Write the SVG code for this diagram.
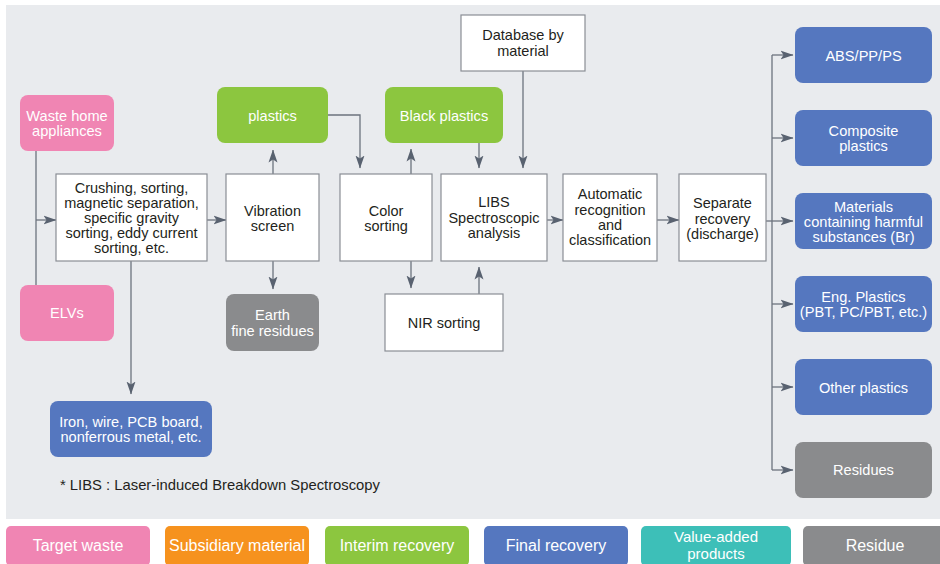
<svg xmlns="http://www.w3.org/2000/svg" width="940" height="564" viewBox="0 0 940 564">
<style>
.wb{fill:#ffffff;stroke:#8a8e95;stroke-width:1.2}
.pk{fill:#f085b3}
.gr{fill:#8cc63f}
.bl{fill:#5577bf}
.gy{fill:#8a8b8d}
.or{fill:#f6921e}
.tl{fill:#3dbfb8}
text{font-family:"Liberation Sans",Arial,Helvetica,sans-serif;text-anchor:middle}
.dt{fill:#231f20;font-size:14.5px}
.wt{fill:#ffffff;font-size:14.6px}
.lg{fill:#ffffff;font-size:16px}
.cn{fill:none;stroke:#6c737e;stroke-width:1.3}
</style>
<defs>
<marker id="ah" markerWidth="13" markerHeight="10" refX="12.5" refY="5" orient="auto" markerUnits="userSpaceOnUse">
<path d="M0,0.5 L13,5 L0,9.5 L3,5 z" fill="#596270"/>
</marker>
</defs>
<rect x="0" y="0" width="940" height="564" fill="#ffffff"/>
<rect x="6" y="5" width="934" height="514" fill="#e9ebee"/>

<g id="connectors">
<path class="cn" d="M36,151 V285"/>
<path class="cn" d="M36,220 H56" marker-end="url(#ah)"/>
<path class="cn" d="M207,220 H226" marker-end="url(#ah)"/>
<path class="cn" d="M273,174 V150" marker-end="url(#ah)"/>
<path class="cn" d="M273,261 V289" marker-end="url(#ah)"/>
<path class="cn" d="M328,115 H360 V168" marker-end="url(#ah)"/>
<path class="cn" d="M411,174 V149" marker-end="url(#ah)"/>
<path class="cn" d="M479,143 V168" marker-end="url(#ah)"/>
<path class="cn" d="M523,71 V168" marker-end="url(#ah)"/>
<path class="cn" d="M411,261 V288" marker-end="url(#ah)"/>
<path class="cn" d="M479,294 V267" marker-end="url(#ah)"/>
<path class="cn" d="M547,220 H563" marker-end="url(#ah)"/>
<path class="cn" d="M657,220 H679" marker-end="url(#ah)"/>
<path class="cn" d="M131,261 V394" marker-end="url(#ah)"/>
<path class="cn" d="M772,55 V470"/>
<path class="cn" d="M766,221 H793" marker-end="url(#ah)"/>
<path class="cn" d="M772,55 H793" marker-end="url(#ah)"/>
<path class="cn" d="M772,138 H793" marker-end="url(#ah)"/>
<path class="cn" d="M772,304 H793" marker-end="url(#ah)"/>
<path class="cn" d="M772,387 H793" marker-end="url(#ah)"/>
<path class="cn" d="M772,470 H793" marker-end="url(#ah)"/>
</g>

<g id="waste-home">
<rect class="pk" x="20" y="95" width="94" height="56" rx="8"/>
<text class="wt" x="67" y="121">Waste home</text>
<text class="wt" x="67" y="136">appliances</text>
</g>
<g id="elvs">
<rect class="pk" x="20" y="285" width="94" height="56" rx="8"/>
<text class="wt" x="67" y="318">ELVs</text>
</g>
<g id="crushing">
<rect class="wb" x="56" y="174" width="151" height="87"/>
<text class="dt" x="131.5" y="193">Crushing, sorting,</text>
<text class="dt" x="131.5" y="208">magnetic separation,</text>
<text class="dt" x="131.5" y="223">specific gravity</text>
<text class="dt" x="131.5" y="238">sorting, eddy current</text>
<text class="dt" x="131.5" y="253">sorting, etc.</text>
</g>
<g id="vibration">
<rect class="wb" x="226" y="174" width="93" height="87"/>
<text class="dt" x="272.5" y="216">Vibration</text>
<text class="dt" x="272.5" y="231">screen</text>
</g>
<g id="plastics">
<rect class="gr" x="217" y="87" width="111" height="56" rx="8"/>
<text class="wt" x="272.5" y="121">plastics</text>
</g>
<g id="earth">
<rect class="gy" x="226" y="294" width="93" height="57" rx="8"/>
<text class="wt" x="272.5" y="320">Earth</text>
<text class="wt" x="272.5" y="336">fine residues</text>
</g>
<g id="color-sorting">
<rect class="wb" x="340" y="174" width="92" height="87"/>
<text class="dt" x="386" y="216">Color</text>
<text class="dt" x="386" y="231">sorting</text>
</g>
<g id="black-plastics">
<rect class="gr" x="385" y="87" width="118" height="56" rx="8"/>
<text class="wt" x="444" y="121">Black plastics</text>
</g>
<g id="database">
<rect class="wb" x="461" y="15" width="124" height="56"/>
<text class="dt" x="523" y="40">Database by</text>
<text class="dt" x="523" y="56">material</text>
</g>
<g id="libs">
<rect class="wb" x="441" y="174" width="106" height="87"/>
<text class="dt" x="494" y="207">LIBS</text>
<text class="dt" x="494" y="223">Spectroscopic</text>
<text class="dt" x="494" y="238">analysis</text>
</g>
<g id="nir">
<rect class="wb" x="385" y="294" width="118" height="57"/>
<text class="dt" x="444" y="328">NIR sorting</text>
</g>
<g id="automatic">
<rect class="wb" x="563" y="174" width="94" height="87"/>
<text class="dt" x="610" y="199">Automatic</text>
<text class="dt" x="610" y="215">recognition</text>
<text class="dt" x="610" y="230">and</text>
<text class="dt" x="610" y="245">classification</text>
</g>
<g id="separate">
<rect class="wb" x="679" y="174" width="87" height="87"/>
<text class="dt" x="722.5" y="208">Separate</text>
<text class="dt" x="722.5" y="224">recovery</text>
<text class="dt" x="722.5" y="239">(discharge)</text>
</g>
<g id="iron">
<rect class="bl" x="50" y="401" width="162" height="56" rx="8"/>
<text class="wt" x="131" y="427">Iron, wire, PCB board,</text>
<text class="wt" x="131" y="442">nonferrous metal, etc.</text>
</g>
<g id="abs">
<rect class="bl" x="795" y="27" width="137" height="56" rx="8"/>
<text class="wt" x="863.5" y="61">ABS/PP/PS</text>
</g>
<g id="composite">
<rect class="bl" x="795" y="110" width="137" height="56" rx="8"/>
<text class="wt" x="863.5" y="136">Composite</text>
<text class="wt" x="863.5" y="151">plastics</text>
</g>
<g id="harmful">
<rect class="bl" x="795" y="193" width="137" height="56" rx="8"/>
<text class="wt" x="863.5" y="212">Materials</text>
<text class="wt" x="863.5" y="227">containing harmful</text>
<text class="wt" x="863.5" y="242">substances (Br)</text>
</g>
<g id="eng">
<rect class="bl" x="795" y="276" width="137" height="56" rx="8"/>
<text class="wt" x="863.5" y="302">Eng. Plastics</text>
<text class="wt" x="863.5" y="317">(PBT, PC/PBT, etc.)</text>
</g>
<g id="other">
<rect class="bl" x="795" y="359" width="137" height="56" rx="8"/>
<text class="wt" x="863.5" y="393">Other plastics</text>
</g>
<g id="residues">
<rect class="gy" x="795" y="442" width="137" height="56" rx="8"/>
<text class="wt" x="863.5" y="475">Residues</text>
</g>

<text x="60" y="490" style="text-anchor:start;font-size:14.8px;fill:#231f20">* LIBS : Laser-induced Breakdown Spectroscopy</text>

<g id="legend">
<rect class="pk" x="6" y="526" width="144" height="40" rx="5"/>
<text class="lg" x="78" y="551">Target waste</text>
<rect class="or" x="165" y="526" width="144" height="40" rx="5"/>
<text class="lg" x="237" y="551">Subsidiary material</text>
<rect class="gr" x="325" y="526" width="144" height="40" rx="5"/>
<text class="lg" x="397" y="551">Interim recovery</text>
<rect class="bl" x="484" y="526" width="144" height="40" rx="5"/>
<text class="lg" x="556" y="551">Final recovery</text>
<rect class="tl" x="641" y="526" width="150" height="40" rx="5"/>
<text class="lg" x="716" y="542" style="font-size:15px">Value-added</text>
<text class="lg" x="716" y="559" style="font-size:15px">products</text>
<rect class="gy" x="803" y="526" width="150" height="40" rx="5"/>
<text class="lg" x="875" y="551">Residue</text>
</g>
</svg>
